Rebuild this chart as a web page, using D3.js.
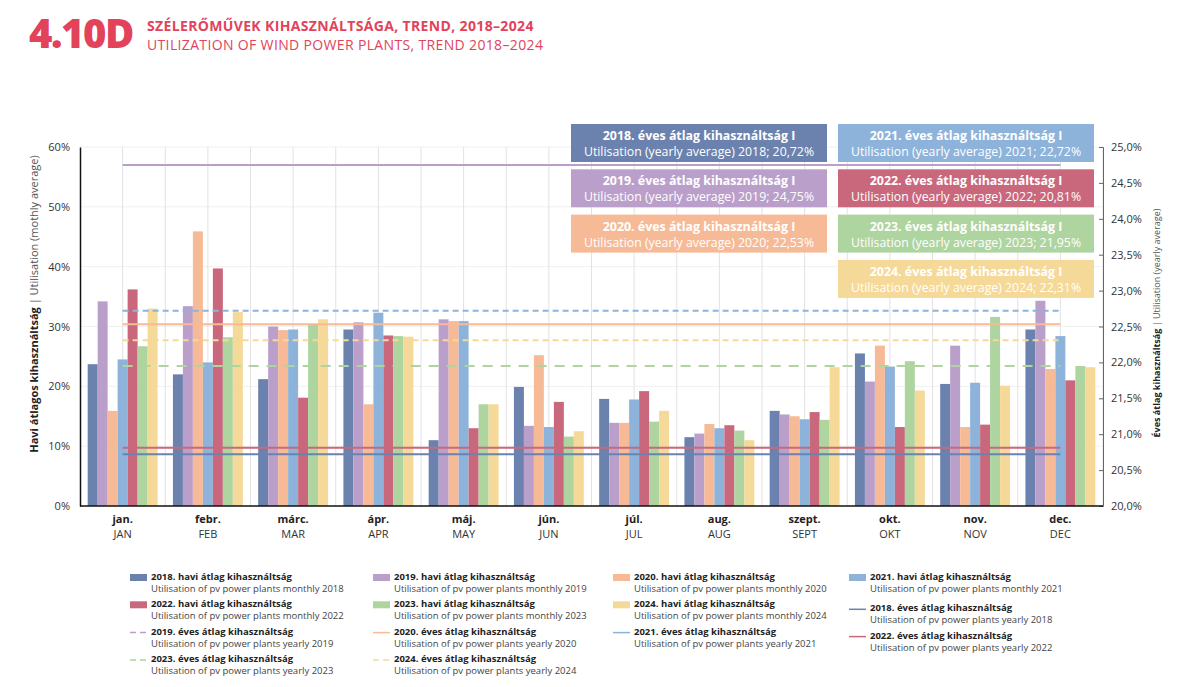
<!DOCTYPE html>
<html>
<head>
<meta charset="utf-8">
<script src="https://cdn.jsdelivr.net/npm/d3@7"></script>
<style>
  body { margin: 0; background: #fff; }
  svg { font-family: "Open Sans", sans-serif; }
</style>
</head>
<body>
<svg id="chart" width="1190" height="687"></svg>
<script>
// months (Hungarian + English)
const monthsHu = ["jan.", "febr.", "márc.", "ápr.", "máj.", "jún.", "júl.", "aug.", "szept.", "okt.", "nov.", "dec."];
const monthsEn = ["JAN", "FEB", "MAR", "APR", "MAY", "JUN", "JUL", "AUG", "SEPT", "OKT", "NOV", "DEC"];
const years = ["2018", "2019", "2020", "2021", "2022", "2023", "2024"];

// monthly utilisation, %
const monthly2018 = [23.7, 22.0, 21.2, 29.5, 11.0, 19.9, 17.9, 11.5, 15.9, 25.5, 20.4, 29.5];
const monthly2019 = [34.2, 33.4, 30.0, 30.7, 31.2, 13.4, 13.9, 12.1, 15.3, 20.8, 26.8, 34.3];
const monthly2020 = [15.9, 45.9, 29.4, 17.0, 30.9, 25.2, 13.9, 13.7, 15.0, 26.8, 13.2, 22.9];
const monthly2021 = [24.5, 24.0, 29.5, 32.3, 30.9, 13.2, 17.8, 13.0, 14.5, 23.3, 20.6, 28.4];
const monthly2022 = [36.2, 39.7, 18.1, 28.5, 13.0, 17.4, 19.2, 13.5, 15.7, 13.2, 13.6, 21.0];
const monthly2023 = [26.7, 28.2, 30.4, 28.4, 17.0, 11.6, 14.1, 12.6, 14.4, 24.2, 31.6, 23.4];
const monthly2024 = [33.0, 32.4, 31.2, 28.3, 17.0, 12.5, 15.9, 11.0, 23.2, 19.3, 20.1, 23.2];

// yearly averages, % (right axis)
const yearlyAvg = [20.72, 24.75, 22.53, 22.72, 20.81, 21.95, 22.31];
const yearlyAvgLabel = ["20,72%", "24,75%", "22,53%", "22,72%", "20,81%", "21,95%", "22,31%"];

const leftTicks = [0, 10, 20, 30, 40, 50, 60];
const rightTicks = [20, 20.5, 21, 21.5, 22, 22.5, 23, 23.5, 24, 24.5, 25];

const colors = {
  "2018": "#6b82ae", "2019": "#bb9fcb", "2020": "#f7ba96", "2021": "#8db3da",
  "2022": "#c9687d", "2023": "#aed49f", "2024": "#f5d998"
};
const yearlyDash = { "2018": null, "2019": null, "2020": null, "2021": "6,4", "2022": null, "2023": "10,8", "2024": "6,4" };
const legendDash = { "2018": null, "2019": "6,4", "2020": null, "2021": null, "2022": null, "2023": "6,4", "2024": "6,4" };

const monthly = [monthly2018, monthly2019, monthly2020, monthly2021, monthly2022, monthly2023, monthly2024];

const svg = d3.select("#chart");
const M = { left: 80, right: 1103, top: 147, bottom: 506 };

/* Header */
svg.append("text").attr("x", 29).attr("y", 48)
  .attr("font-size", 40).attr("font-weight", 800).attr("fill", "#e2435b")
  .attr("letter-spacing", -1.5)
  .text("4.10D");
svg.append("text").attr("x", 147).attr("y", 31)
  .attr("font-size", 14).attr("font-weight", 700).attr("fill", "#e2435b")
  .attr("letter-spacing", 0.35)
  .text("SZÉLERŐMŰVEK KIHASZNÁLTSÁGA, TREND, 2018–2024");
svg.append("text").attr("x", 147).attr("y", 50)
  .attr("font-size", 14).attr("fill", "#e2435b")
  .attr("letter-spacing", 0.35)
  .text("UTILIZATION OF WIND POWER PLANTS, TREND 2018–2024");

/* Scales */
const x0 = d3.scaleBand().domain(monthsHu).range([M.left, M.right])
  .paddingInner(0.18).paddingOuter(0.09);
const x1 = d3.scaleBand().domain(years).range([0, x0.bandwidth()]);
const xLine = d3.scalePoint().domain(monthsHu).range([M.left, M.right]).padding(0.5);
const y = d3.scaleLinear().domain([0, 60]).range([M.bottom, M.top]);
const yR = d3.scaleLinear().domain([20, 25]).range([M.bottom, M.top]);

/* Grid */
const grid = svg.append("g");
grid.selectAll(".hg").data(leftTicks.slice(1)).enter().append("line")
  .attr("x1", M.left).attr("x2", M.right)
  .attr("y1", d => y(d)).attr("y2", d => y(d))
  .attr("stroke", "#f0f0f0");
const step = x0.step();
const vgrid = d3.range(0, 24).map(i => M.left + step / 2 * (i + 1));
grid.selectAll(".vg").data(vgrid).enter().append("line")
  .attr("x1", d => d).attr("x2", d => d)
  .attr("y1", M.top).attr("y2", M.bottom)
  .attr("stroke", "#e2e2e2");

/* Bars */
const rows = monthsHu.map((m, i) => ({ m, vals: years.map((yr, j) => ({ yr, v: monthly[j][i] })) }));
svg.append("g").selectAll("g").data(rows).enter().append("g")
  .attr("transform", d => `translate(${x0(d.m)},0)`)
  .selectAll("rect").data(d => d.vals).enter().append("rect")
  .attr("x", d => x1(d.yr)).attr("width", x1.bandwidth())
  .attr("y", d => y(d.v)).attr("height", d => y(0) - y(d.v))
  .attr("fill", d => colors[d.yr]);

/* Yearly average lines */
const line = d3.line().x(d => xLine(d.m)).y(d => yR(d.v));
svg.append("g").selectAll("path").data(years).enter().append("path")
  .attr("d", (yr, j) => line(monthsHu.map(m => ({ m, v: yearlyAvg[j] }))))
  .attr("fill", "none").attr("stroke", yr => colors[yr]).attr("stroke-width", 2)
  .attr("stroke-dasharray", yr => yearlyDash[yr]);

/* Axes */
const yAxis = d3.axisLeft(y).tickValues(leftTicks).tickFormat(d => d + "%").tickSize(0).tickPadding(10);
const gL = svg.append("g").attr("transform", `translate(${M.left},0)`).call(yAxis);
gL.select(".domain").attr("stroke", "#111").attr("stroke-width", 1.5);
gL.selectAll("text").attr("font-size", 11).attr("fill", "#333").attr("font-family", "Open Sans");

const yAxisR = d3.axisRight(yR).tickValues(rightTicks)
  .tickFormat(d => d3.format(".1f")(d).replace(".", ",") + "%").tickSize(-4).tickPadding(8);
const gR = svg.append("g").attr("transform", `translate(${M.right},0)`).call(yAxisR);
gR.select(".domain").attr("stroke", "#666");
gR.selectAll(".tick line").attr("stroke", "#666");
gR.selectAll("text").attr("font-size", 11).attr("fill", "#333").attr("font-family", "Open Sans");

svg.append("line").attr("x1", M.left).attr("x2", M.right)
  .attr("y1", M.bottom).attr("y2", M.bottom).attr("stroke", "#111").attr("stroke-width", 1.5);

const xl = svg.append("g");
xl.selectAll(".hu").data(monthsHu).enter().append("text")
  .attr("x", d => xLine(d)).attr("y", 523).attr("text-anchor", "middle")
  .attr("font-size", 11).attr("font-weight", 700).attr("fill", "#222").text(d => d);
xl.selectAll(".en").data(monthsEn).enter().append("text")
  .attr("x", (d, i) => xLine(monthsHu[i])).attr("y", 538).attr("text-anchor", "middle")
  .attr("font-size", 11).attr("fill", "#333").text(d => d);

/* Axis titles */
const tL = svg.append("text").attr("transform", `translate(38,304) rotate(-90)`)
  .attr("text-anchor", "middle").attr("font-size", 11).attr("fill", "#222");
tL.append("tspan").attr("font-weight", 700).text("Havi átlagos kihasználtság");
tL.append("tspan").attr("fill", "#555").text(" | Utilisation (mothly average)");
const tR = svg.append("text").attr("transform", `translate(1160,323) rotate(-90)`)
  .attr("text-anchor", "middle").attr("font-size", 9).attr("fill", "#222");
tR.append("tspan").attr("font-weight", 700).text("Éves átlag kihasználtság");
tR.append("tspan").attr("fill", "#555").text(" | Utilisation (yearly average)");

/* Annotation boxes */
const boxW = 256, boxH = 38;
const boxes = svg.append("g").selectAll("g").data(years).enter().append("g")
  .attr("transform", (yr, j) => {
    const col = j < 3 ? 0 : 1;
    const row = j < 3 ? j : j - 3;
    return `translate(${571 + col * 267},${124 + row * 45.3})`;
  });
boxes.append("rect").attr("width", boxW).attr("height", boxH).attr("fill", yr => colors[yr]);
boxes.append("text").attr("x", boxW / 2).attr("y", 16).attr("text-anchor", "middle")
  .attr("font-size", 12.4).attr("font-weight", 700).attr("fill", "#fff")
  .text(yr => `${yr}. éves átlag kihasználtság I`);
boxes.append("text").attr("x", boxW / 2).attr("y", 32).attr("text-anchor", "middle")
  .attr("font-size", 12.3).attr("fill", "#fff")
  .text((yr, j) => `Utilisation (yearly average) ${yr}; ${yearlyAvgLabel[j]}`);

/* Legend */
const legendItems = years.map(yr => ({ yr, type: "bar",
  title: `${yr}. havi átlag kihasználtság`,
  sub: yr === "2018" || yr === "2019" ? `Utilisation of pv power plants  monthly ${yr}` : `Utilisation of pv power plants monthly ${yr}` }))
  .concat(years.map(yr => ({ yr, type: "line",
    title: `${yr}. éves átlag kihasználtság`,
    sub: `Utilisation of pv power plants yearly ${yr}` })));
const colX = [130, 373, 613, 849];
const lg = svg.append("g").selectAll("g").data(legendItems).enter().append("g")
  .attr("transform", (d, i) => {
    const c = i % 4, r = Math.floor(i / 4);
    const dy = c === 3 && r > 0 ? 4 : 0;
    return `translate(${colX[c]},${580 + r * 27.3 + dy})`;
  });
lg.filter(d => d.type === "bar").append("rect")
  .attr("x", 0).attr("y", -6).attr("width", 17).attr("height", 7).attr("fill", d => colors[d.yr]);
lg.filter(d => d.type === "line").append("line")
  .attr("x1", 0).attr("x2", 17).attr("y1", -2).attr("y2", -2)
  .attr("stroke", d => colors[d.yr]).attr("stroke-width", 1.5)
  .attr("stroke-dasharray", d => legendDash[d.yr]);
lg.append("text").attr("x", 21).attr("y", 0)
  .attr("font-size", 9.5).attr("font-weight", 700).attr("fill", "#222").text(d => d.title);
lg.append("text").attr("x", 21).attr("y", 12)
  .attr("font-size", 9.5).attr("fill", "#444").text(d => d.sub);
</script>
</body>
</html>
